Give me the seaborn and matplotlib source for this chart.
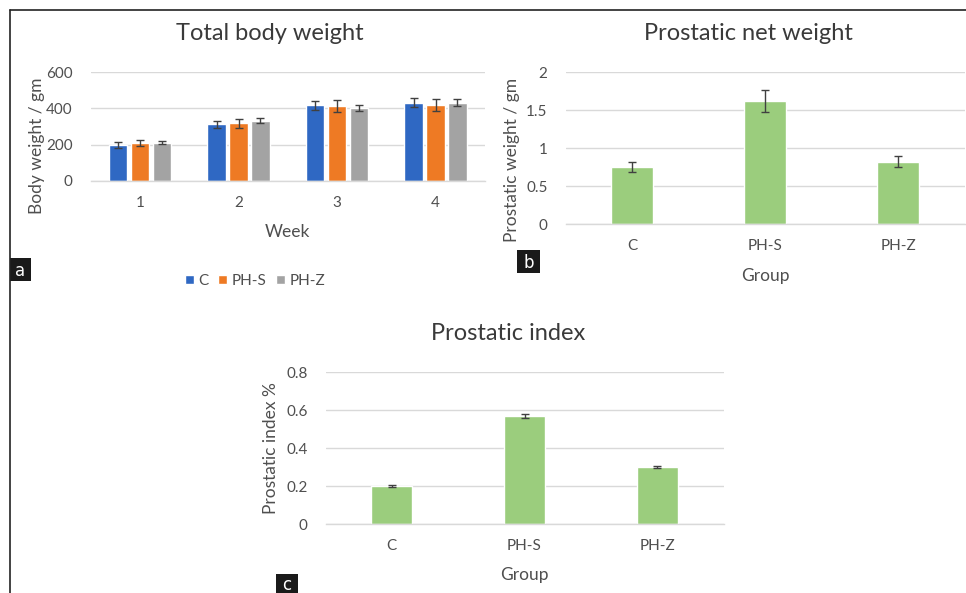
import matplotlib
matplotlib.use("Agg")
import matplotlib.pyplot as plt
import seaborn as sns
import pandas as pd
import numpy as np
from matplotlib.lines import Line2D

# ---------------- data ----------------
weeks = ["1", "2", "3", "4"]
groups = ["C", "PH-S", "PH-Z"]
bw_C = [198, 313, 416, 432]
bw_PHS = [208, 318, 412, 420]
bw_PHZ = [211, 331, 403, 432]
bw_err_C = [14, 19, 25, 26]
bw_err_PHS = [17, 25, 33, 34]
bw_err_PHZ = [9, 14, 16, 17]

net_weight = [0.75, 1.62, 0.82]
net_weight_err = [0.065, 0.14, 0.07]

index_pct = [0.20, 0.57, 0.30]
index_err = [0.003, 0.011, 0.006]

title_a = "Total body weight"
title_b = "Prostatic net weight"
title_c = "Prostatic index"

# ---------------- style ----------------
sns.set_theme(style="white")
plt.rcParams["font.family"] = ["Lato", "DejaVu Sans"]

BLUE = "#2F68C3"
ORANGE = "#EE7A24"
GRAY = "#A3A3A3"
GREEN = "#9BCD7D"
TXT = "#4F4F4F"
TTL = "#3A3A3A"
GRID = "#D9D9D9"
ERR = "#404040"
TICK_FS = 11
LAB_FS = 12.5
TTL_FS = 17

W, H = 966, 593
fig = plt.figure(figsize=(W / 100, H / 100), dpi=100)


def box(x0, y0, x1, y1):
    return [x0 / W, 1 - y1 / H, (x1 - x0) / W, (y1 - y0) / H]


def style_ax(ax, ymax, yticks, yfmt):
    ax.set_ylim(0, ymax)
    ax.set_yticks(yticks)
    ax.set_yticklabels([yfmt(v) for v in yticks])
    ax.yaxis.grid(True, color=GRID, lw=1.0)
    ax.set_axisbelow(True)
    for s in ["top", "right", "left"]:
        ax.spines[s].set_visible(False)
    ax.spines["bottom"].set_color(GRID)
    ax.spines["bottom"].set_linewidth(1.0)
    ax.tick_params(axis="both", length=0, labelsize=TICK_FS, labelcolor=TXT)
    ax.tick_params(axis="y", pad=13)
    ax.tick_params(axis="x", pad=11)
    ax.set_facecolor("none")


# ---------------- panel a ----------------
ax_a = fig.add_axes(box(90.75, 72, 484.75, 181))
df_a = pd.DataFrame({
    "Week": weeks * 3,
    "Group": sum([[g] * 4 for g in groups], []),
    "Weight": bw_C + bw_PHS + bw_PHZ,
})
sns.barplot(data=df_a, x="Week", y="Weight", hue="Group", order=weeks,
            hue_order=groups, palette=[BLUE, ORANGE, GRAY], width=0.67,
            gap=0.18, errorbar=None, ax=ax_a, saturation=1)
for cont, errs in zip(ax_a.containers, [bw_err_C, bw_err_PHS, bw_err_PHZ]):
    xs = [p.get_x() + p.get_width() / 2 for p in cont]
    hs = [p.get_height() for p in cont]
    ax_a.errorbar(xs, hs, yerr=errs, fmt="none", ecolor=ERR, elinewidth=1,
                  capsize=3, capthick=1)
ax_a.set_xlim(-0.5, 3.5)
style_ax(ax_a, 600, [0, 200, 400, 600], lambda v: f"{v:g}")
ax_a.set_xlabel("Week", fontsize=LAB_FS, color=TXT)
ax_a.set_ylabel("Body weight / gm", fontsize=LAB_FS, color=TXT)
ax_a.xaxis.set_label_coords(0.5, -0.39)
ax_a.yaxis.set_label_coords(-0.116, 0.32)
sns.move_legend(ax_a, "center", bbox_to_anchor=((255 - 90.75) / 394, (181 - 281) / 109),
                ncol=3, frameon=False, title=None, fontsize=TICK_FS,
                handlelength=0.6, handleheight=0.6, handletextpad=0.3,
                columnspacing=0.6)
for t in ax_a.get_legend().get_texts():
    t.set_color(TXT)
fig.text(270 / W, 1 - 33 / H, title_a, ha="center", va="center",
         fontsize=TTL_FS, color=TTL)

# ---------------- panel b ----------------
ax_b = fig.add_axes(box(565.5, 72, 964.5, 224))
df_b = pd.DataFrame({"Group": groups, "Value": net_weight})
sns.barplot(data=df_b, x="Group", y="Value", order=groups, color=GREEN,
            width=0.31, errorbar=None, ax=ax_b, saturation=1)
cont = ax_b.containers[0]
ax_b.errorbar([p.get_x() + p.get_width() / 2 for p in cont],
              [p.get_height() for p in cont], yerr=net_weight_err, fmt="none",
              ecolor=ERR, elinewidth=1, capsize=3, capthick=1)
ax_b.set_xlim(-0.5, 2.5)
style_ax(ax_b, 2, [0, 0.5, 1, 1.5, 2], lambda v: f"{v:g}")
ax_b.set_xlabel("Group", fontsize=LAB_FS, color=TXT)
ax_b.set_ylabel("Prostatic weight / gm", fontsize=LAB_FS, color=TXT)
ax_b.xaxis.set_label_coords(0.5, -0.29)
ax_b.yaxis.set_label_coords(-0.114, 0.42)
fig.text(748 / W, 1 - 33 / H, title_b, ha="center", va="center",
         fontsize=TTL_FS, color=TTL)

# ---------------- panel c ----------------
ax_c = fig.add_axes(box(325.5, 372, 723.5, 524))
df_c = pd.DataFrame({"Group": groups, "Value": index_pct})
sns.barplot(data=df_c, x="Group", y="Value", order=groups, color=GREEN,
            width=0.31, errorbar=None, ax=ax_c, saturation=1)
cont = ax_c.containers[0]
ax_c.errorbar([p.get_x() + p.get_width() / 2 for p in cont],
              [p.get_height() for p in cont], yerr=index_err, fmt="none",
              ecolor=ERR, elinewidth=1, capsize=3, capthick=1)
ax_c.set_xlim(-0.5, 2.5)
style_ax(ax_c, 0.8, [0, 0.2, 0.4, 0.6, 0.8], lambda v: f"{v:g}")
ax_c.set_xlabel("Group", fontsize=LAB_FS, color=TXT)
ax_c.set_ylabel("Prostatic index %", fontsize=LAB_FS, color=TXT)
ax_c.xaxis.set_label_coords(0.5, -0.283)
ax_c.yaxis.set_label_coords(-0.117, 0.5)
fig.text(508 / W, 1 - 333 / H, title_c, ha="center", va="center",
         fontsize=TTL_FS, color=TTL)

# ---------------- panel letters ----------------
for letter, (x0, y0, x1, y1) in {"a": (10, 258, 31, 281),
                                 "b": (517, 250, 540, 273),
                                 "c": (276, 574, 298, 593)}.items():
    fig.patches.append(plt.Rectangle((x0 / W, 1 - y1 / H), (x1 - x0) / W,
                                     (y1 - y0) / H, transform=fig.transFigure,
                                     facecolor="#1a1a1a", edgecolor="none"))
    fig.text((x0 + x1) / 2 / W, 1 - ((y0 + y1) / 2 + 1) / H, letter,
             ha="center", va="center", color="white", fontsize=12,
             family=["DejaVu Sans"])

# ---------------- frame ----------------
fig.add_artist(Line2D([10 / W, 966 / W], [1 - 10 / H, 1 - 10 / H],
                      transform=fig.transFigure, color="#222222", lw=1.2))
fig.add_artist(Line2D([10 / W, 10 / W], [1 - 10 / H, 0],
                      transform=fig.transFigure, color="#222222", lw=1.2))

fig.savefig("out.png", dpi=100, facecolor="white")
